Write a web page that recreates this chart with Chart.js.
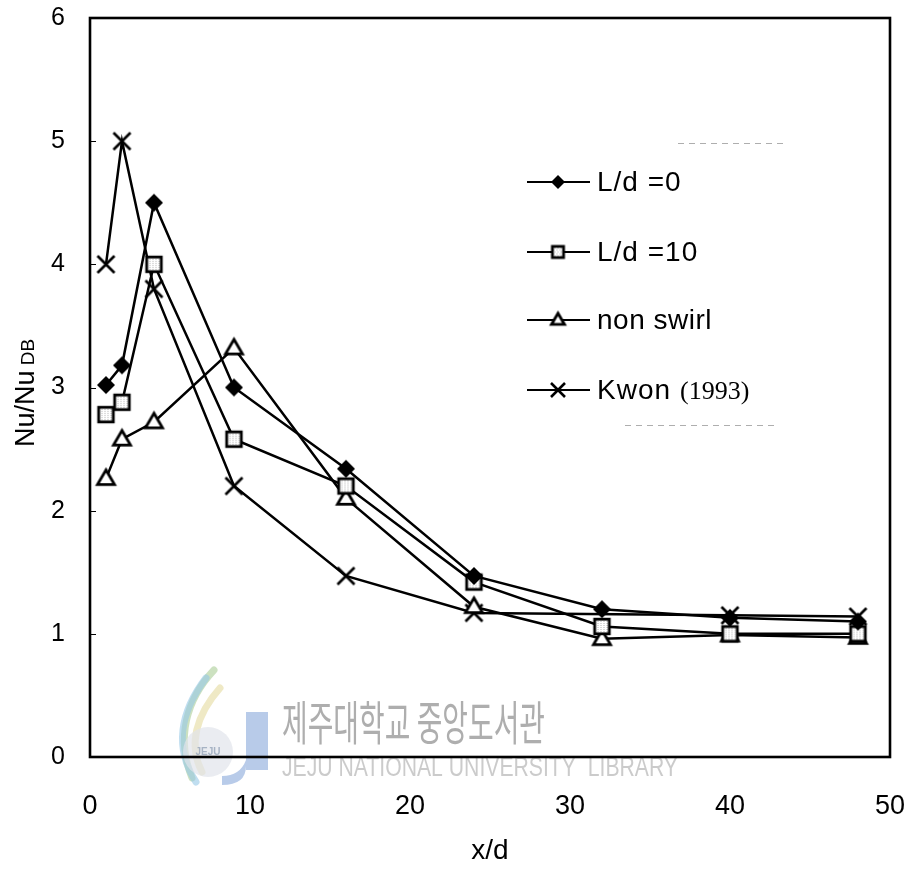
<!DOCTYPE html>
<html>
<head>
<meta charset="utf-8">
<script src="https://cdn.jsdelivr.net/npm/chart.js@4.4.1/dist/chart.umd.min.js"></script>
<style>
  html, body { margin: 0; padding: 0; background: #fff; }
  #wrap { width: 911px; height: 870px; }
</style>
</head>
<body>
<div id="wrap"><canvas id="c" width="911" height="870"></canvas></div>
<script>
// Axial positions x/d and normalised Nusselt numbers Nu/Nu_DB
const xPositions = [1, 2, 4, 9, 16, 24, 32, 40, 48];
const ld0 = [3.02, 3.18, 4.5, 3.0, 2.34, 1.47, 1.2, 1.13, 1.1];
const ld10 = [2.78, 2.88, 4.0, 2.58, 2.2, 1.42, 1.06, 1.0, 1.0];
const nonSwirl = [2.26, 2.58, 2.72, 3.32, 2.1, 1.22, 0.96, 0.99, 0.97];
const kwonX = [1, 2, 4, 9, 16, 24, 40, 48];
const kwonY = [4.0, 5.0, 3.8, 2.2, 1.47, 1.17, 1.15, 1.14];
const seriesNames = ['L/d =0', 'L/d =10', 'non swirl', 'Kwon (1993)'];
const xTicks = [0, 10, 20, 30, 40, 50];
const yTicks = [0, 1, 2, 3, 4, 5, 6];

const SANS = "'Liberation Sans', Arial, Helvetica, sans-serif";
const SERIF = "'Liberation Serif', 'Times New Roman', serif";

// Marker sprites used both for the plotted points and the legend keys
function makeMarker(kind, size) {
  const pad = 4;
  const dim = Math.ceil(size + pad * 2);
  const cv = document.createElement('canvas');
  cv.width = dim; cv.height = dim;
  const g = cv.getContext('2d');
  const c = dim / 2, r = size / 2;
  g.lineJoin = 'miter';
  g.strokeStyle = '#000';
  if (kind === 'diamond') {
    g.beginPath();
    g.moveTo(c, c - r); g.lineTo(c + r, c); g.lineTo(c, c + r); g.lineTo(c - r, c);
    g.closePath();
    g.fillStyle = '#000';
    g.fill();
  } else if (kind === 'square') {
    const a = size * 0.86;
    g.fillStyle = '#fff';
    g.fillRect(c - a / 2, c - a / 2, a, a);
    // stippled grey fill
    g.fillStyle = 'rgba(120,120,120,0.55)';
    for (let yy = Math.floor(c - a / 2) + 2; yy < c + a / 2 - 1; yy += 2) {
      for (let xx = Math.floor(c - a / 2) + 2 + ((yy % 4) ? 1 : 0); xx < c + a / 2 - 1; xx += 3) {
        g.fillRect(xx, yy, 1, 1);
      }
    }
    g.lineWidth = size > 12 ? 2.8 : 2;
    g.strokeRect(c - a / 2, c - a / 2, a, a);
  } else if (kind === 'triangle') {
    const w = size, h = size * 0.86;
    g.beginPath();
    g.moveTo(c, c - h * 0.6); g.lineTo(c + w / 2, c + h * 0.4); g.lineTo(c - w / 2, c + h * 0.4);
    g.closePath();
    g.fillStyle = '#fff';
    g.fill();
    g.lineWidth = size > 12 ? 2.8 : 2;
    g.stroke();
  } else if (kind === 'cross') {
    g.lineWidth = size > 12 ? 2.6 : 2;
    g.beginPath();
    g.moveTo(c - r, c - r); g.lineTo(c + r, c + r);
    g.moveTo(c + r, c - r); g.lineTo(c - r, c + r);
    g.stroke();
  }
  return cv;
}

const plotMarkers = [makeMarker('diamond', 18), makeMarker('square', 17), makeMarker('triangle', 17), makeMarker('cross', 17)];
const legendMarkers = [makeMarker('diamond', 14), makeMarker('square', 13), makeMarker('triangle', 13), makeMarker('cross', 14)];

const toPoints = (xs, ys) => xs.map((x, i) => ({ x: x, y: ys[i] }));
const seriesData = [
  toPoints(xPositions, ld0),
  toPoints(xPositions, ld10),
  toPoints(xPositions, nonSwirl),
  toPoints(kwonX, kwonY)
];

// Faint library watermark behind the curves
const watermark = {
  id: 'watermark',
  beforeDatasetsDraw(chart) {
    const ctx = chart.ctx;
    ctx.save();
    // logo swirls
    ctx.lineCap = 'round';
    const strokes = [
      ['rgba(170,205,150,0.6)', [[214, 670], [186, 700], [176, 738], [192, 778]]],
      ['rgba(150,200,230,0.6)', [[206, 678], [180, 712], [174, 748], [196, 782]]],
      ['rgba(225,215,150,0.55)', [[220, 688], [196, 715], [188, 745], [202, 772]]]
    ];
    strokes.forEach(([col, p]) => {
      ctx.strokeStyle = col;
      ctx.lineWidth = 7;
      ctx.beginPath();
      ctx.moveTo(p[0][0], p[0][1]);
      ctx.bezierCurveTo(p[1][0], p[1][1], p[2][0], p[2][1], p[3][0], p[3][1]);
      ctx.stroke();
    });
    ctx.fillStyle = 'rgba(225,228,235,0.7)';
    ctx.beginPath();
    ctx.arc(208, 752, 25, 0, Math.PI * 2);
    ctx.fill();
    ctx.fillStyle = 'rgba(150,165,185,0.8)';
    ctx.font = "bold 10px " + SANS;
    ctx.textAlign = 'center';
    ctx.textBaseline = 'middle';
    ctx.fillText('JEJU', 208, 752);
    ctx.fillStyle = 'rgba(160,185,225,0.75)';
    ctx.fillRect(246, 712, 22, 58);
    ctx.beginPath();
    ctx.moveTo(246, 766);
    ctx.quadraticCurveTo(246, 785, 222, 785);
    ctx.lineTo(222, 776);
    ctx.quadraticCurveTo(240, 776, 246, 760);
    ctx.fill();

    // Korean name, condensed
    ctx.textAlign = 'left';
    ctx.textBaseline = 'middle';
    ctx.fillStyle = 'rgba(160,160,160,0.85)';
    ctx.font = "47px 'Noto Sans CJK KR', sans-serif";
    const kr = '제주대학교 중앙도서관';
    let w = ctx.measureText(kr).width;
    ctx.save();
    ctx.translate(282, 722);
    ctx.scale(263 / w, 1);
    ctx.fillText(kr, 0, 0);
    ctx.restore();
    // English name, condensed
    ctx.fillStyle = 'rgba(190,190,190,0.8)';
    ctx.font = '27px ' + SANS;
    const en = 'JEJU NATIONAL UNIVERSITY  LIBRARY';
    w = ctx.measureText(en).width;
    ctx.save();
    ctx.translate(282, 769);
    ctx.scale(396 / w, 1);
    ctx.fillText(en, 0, 0);
    ctx.restore();
    ctx.restore();
  }
};

// Plot frame, inner y tick marks, legend and y-axis title
const decorations = {
  id: 'decorations',
  afterDatasetsDraw(chart) {
    const ctx = chart.ctx;
    const a = chart.chartArea;
    const ys = chart.scales.y;
    ctx.save();
    ctx.strokeStyle = '#000';
    ctx.lineWidth = 1;
    yTicks.forEach(v => {
      if (v === 0 || v === 6) return;
      const py = Math.round(ys.getPixelForValue(v)) + 0.5;
      ctx.beginPath();
      ctx.moveTo(a.left, py);
      ctx.lineTo(a.left + 6, py);
      ctx.stroke();
    });
    ctx.lineWidth = 2.6;
    ctx.strokeRect(a.left, a.top, a.right - a.left, a.bottom - a.top);

    // legend
    const rowY = [182, 252, 320, 390];
    ctx.lineWidth = 2.2;
    ctx.textBaseline = 'middle';
    ctx.textAlign = 'left';
    rowY.forEach((y, i) => {
      ctx.strokeStyle = '#000';
      ctx.beginPath();
      ctx.moveTo(527, y);
      ctx.lineTo(590, y);
      ctx.stroke();
      const m = legendMarkers[i];
      ctx.drawImage(m, 558 - m.width / 2, y - m.height / 2);
      ctx.fillStyle = '#000';
      if (i === 3) {
        ctx.font = '28px ' + SANS;
        ctx.letterSpacing = '1px';
        ctx.fillText('Kwon', 597, y + 1);
        const kw = ctx.measureText('Kwon').width;
        ctx.letterSpacing = '0px';
        ctx.font = '26px ' + SERIF;
        ctx.fillText('(1993)', 597 + kw + 9, y + 2);
      } else {
        ctx.font = '28px ' + SANS;
        ctx.letterSpacing = i === 2 ? '0.5px' : '1px';
        ctx.fillText(seriesNames[i], 597, y + 1);
        ctx.letterSpacing = '0px';
      }
    });
    // faint dashed remnants of the legend box
    ctx.strokeStyle = 'rgba(120,120,120,0.6)';
    ctx.lineWidth = 1;
    ctx.setLineDash([6, 5]);
    ctx.beginPath();
    ctx.moveTo(678, 143.5); ctx.lineTo(785, 143.5);
    ctx.moveTo(625, 425.5); ctx.lineTo(775, 425.5);
    ctx.stroke();
    ctx.setLineDash([]);

    // y-axis title with small "DB"
    ctx.save();
    ctx.translate(34, 393);
    ctx.rotate(-Math.PI / 2);
    ctx.fillStyle = '#000';
    ctx.textBaseline = 'alphabetic';
    ctx.font = '27px ' + SANS;
    const main = 'Nu/Nu';
    const mw = ctx.measureText(main).width;
    ctx.font = '19px ' + SANS;
    const sw = ctx.measureText(' DB').width;
    const start = -(mw + sw) / 2;
    ctx.font = '27px ' + SANS;
    ctx.fillText(main, start, 0);
    ctx.font = '19px ' + SANS;
    ctx.fillText(' DB', start + mw, 0);
    ctx.restore();
    ctx.restore();
  }
};

const datasets = seriesData.map((pts, i) => ({
  label: seriesNames[i],
  data: pts,
  showLine: true,
  borderColor: '#000',
  backgroundColor: '#000',
  borderWidth: 2.5,
  tension: 0,
  fill: false,
  pointStyle: plotMarkers[i],
  pointRadius: 8,
  pointHoverRadius: 8
}));

new Chart(document.getElementById('c'), {
  type: 'scatter',
  data: { datasets: datasets },
  options: {
    responsive: false,
    animation: false,
    devicePixelRatio: 1,
    layout: { padding: { top: 18, right: 21, left: 0, bottom: 0 } },
    plugins: { legend: { display: false }, tooltip: { enabled: false } },
    scales: {
      x: {
        type: 'linear',
        min: 0, max: 50,
        afterBuildTicks: s => { s.ticks = xTicks.map(v => ({ value: v })); },
        afterFit: s => { s.height = 113; s.paddingLeft = 0; s.paddingRight = 0; },
        grid: { display: false },
        border: { display: false },
        ticks: { color: '#000', font: { family: SANS, size: 27 }, padding: 25, maxRotation: 0 },
        title: { display: true, text: 'x/d', color: '#000', font: { family: SANS, size: 28 }, padding: { top: 0, bottom: 2 } }
      },
      y: {
        type: 'linear',
        min: 0, max: 6,
        afterBuildTicks: s => { s.ticks = yTicks.map(v => ({ value: v })); },
        afterFit: s => { s.width = 90; s.paddingTop = 0; s.paddingBottom = 0; },
        grid: { display: false },
        border: { display: false },
        ticks: { color: '#000', font: { family: SANS, size: 25 }, padding: 17 }
      }
    }
  },
  plugins: [watermark, decorations]
});
</script>
</body>
</html>
